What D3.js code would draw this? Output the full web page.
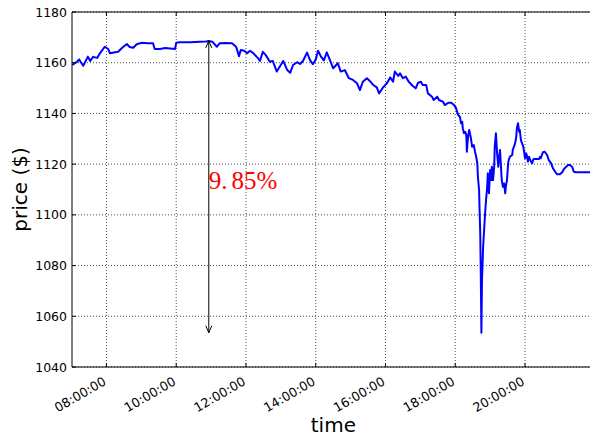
<!DOCTYPE html>
<html>
<head>
<meta charset="utf-8">
<script src="https://cdn.jsdelivr.net/npm/d3@7"></script>
<style>
  body { margin: 0; background: #fff; }
  svg { display: block; }
</style>
</head>
<body>
<svg id="chart" width="590" height="436"></svg>
<script>
// Intraday price samples (local time, price in $)
const times = [
  "07:01","07:09","07:13","07:20","07:28","07:32","07:37","07:44","07:49","07:57",
  "08:03","08:06","08:15","08:20","08:27","08:35","08:40","08:46","08:52","09:01",
  "09:11","09:20","09:23","09:32","09:41","09:58","10:00","10:06","10:24","10:41",
  "10:51","10:56","11:02","11:10","11:15","11:24","11:36","11:43","11:48","11:51",
  "11:57","12:02","12:07","12:12","12:21","12:24","12:29","12:34","12:41","12:46",
  "12:53","12:58","13:04","13:11","13:16","13:21","13:28","13:33","13:38","13:45",
  "13:50","13:55","14:00","14:04","14:09","14:14","14:19","14:25","14:30","14:38",
  "14:43","14:50","14:57","15:04","15:11","15:16","15:21","15:28","15:33","15:39",
  "15:45","15:49","15:56","16:03","16:08","16:13","16:16","16:22","16:25","16:30",
  "16:35","16:40","16:47","16:52","16:56","17:01","17:04","17:10","17:13","17:20",
  "17:23","17:29","17:32","17:39","17:42","17:48","17:53","17:58","18:01","18:05",
  "18:08","18:10","18:12","18:13","18:15","18:17","18:19","18:20","18:22","18:24",
  "18:27","18:29","18:32","18:34","18:36","18:38","18:39","18:41","18:42","18:43",
  "18:44","18:45","18:46","18:48","18:50","18:51","18:53","18:55","18:56","18:58",
  "19:00","19:02","19:03","19:05","19:07","19:08","19:10","19:12","19:14","19:15",
  "19:17","19:19","19:20","19:22","19:24","19:26","19:27","19:29","19:31","19:32",
  "19:34","19:38","19:39","19:41","19:43","19:45","19:46","19:48","19:50","19:51",
  "19:53","19:55","19:57","19:58","20:00","20:02","20:03","20:05","20:07","20:09",
  "20:12","20:14","20:15","20:24","20:26","20:27","20:29","20:31","20:34","20:38",
  "20:41","20:45","20:48","20:52","20:55","21:00","21:04","21:07","21:11","21:14",
  "21:17","21:21","21:24","21:28","21:59"
];
const prices = [
  1159.1,1160.3,1161.3,1158.8,1162.4,1160.7,1162.3,1161.9,1163.8,1166.3,
  1165.4,1163.7,1164.1,1164.3,1165.9,1167.4,1166.2,1165.9,1167.3,1167.9,
  1167.7,1167.7,1165.4,1165.4,1165.8,1165.4,1167.9,1168.1,1168.1,1168.3,
  1168.4,1168.6,1168.3,1166.3,1167.7,1167.8,1167.7,1166.3,1162.6,1165.0,
  1164.7,1163.7,1164.7,1163.9,1161.7,1160.7,1164.3,1163.0,1160.4,1160.7,
  1156.5,1158.4,1160.7,1157.1,1156.0,1159.1,1160.2,1159.5,1160.7,1164.0,
  1161.1,1159.4,1161.3,1164.7,1162.4,1160.9,1164.1,1160.7,1157.8,1159.8,
  1156.5,1157.1,1153.9,1153.2,1151.9,1149.2,1152.5,1153.9,1152.8,1151.2,
  1150.3,1147.9,1150.3,1152.1,1154.2,1152.5,1156.5,1154.8,1155.8,1153.9,
  1154.5,1152.5,1150.8,1149.9,1152.1,1152.5,1151.2,1151.2,1147.9,1146.6,
  1145.3,1146.6,1145.3,1144.6,1143.3,1144.2,1144.2,1143.3,1142.3,1139.4,
  1138.7,1136.1,1136.7,1134.1,1132.2,1132.8,1131.5,1124.9,1130.8,1133.5,
  1130.2,1126.9,1127.5,1124.9,1122.9,1120.3,1115.0,1109.8,1100.7,1092.8,
  1075.6,1053.5,1074.3,1087.4,1095.3,1099.3,1105.9,1111.1,1116.4,1108.5,
  1117.7,1113.7,1119.0,1113.7,1119.0,1126.9,1132.2,1124.3,1119.0,1121.6,
  1125.6,1117.7,1113.7,1111.1,1112.4,1108.5,1111.1,1113.7,1120.3,1121.6,
  1122.9,1123.6,1125.6,1126.9,1128.2,1130.8,1134.1,1136.1,1132.8,1133.5,
  1129.5,1128.2,1126.9,1125.6,1122.3,1124.3,1123.6,1121.0,1122.9,1121.6,
  1120.3,1121.6,1122.0,1122.0,1122.9,1122.3,1123.6,1124.7,1124.9,1123.6,
  1121.6,1120.3,1118.4,1117.0,1116.0,1116.0,1116.8,1118.1,1119.0,1119.7,
  1119.7,1119.0,1117.0,1116.8,1116.8
];

const xTicks = ["08:00","10:00","12:00","14:00","16:00","18:00","20:00"];
const yTicks = [1040, 1060, 1080, 1100, 1120, 1140, 1160, 1180];
const xDomain = ["07:00", "22:00"];
const yDomain = [1040, 1180];

const parse = d3.timeParse("%H:%M");
const fmt = d3.timeFormat("%H:%M:%S");
const data = times.map((t, i) => ({ t: parse(t), p: prices[i] }));

const W = 590, H = 436;
const plot = { left: 72, top: 12, bottom: 367, right: 594.75 };

const x = d3.scaleTime().domain(xDomain.map(parse)).range([71.6, 594.75]);
const y = d3.scaleLinear().domain(yDomain).range([plot.bottom, plot.top]);

const svg = d3.select("#chart");

svg.append("defs").append("clipPath").attr("id", "plotclip")
  .append("rect")
  .attr("x", plot.left).attr("y", plot.top)
  .attr("width", plot.right - plot.left).attr("height", plot.bottom - plot.top);

// dotted grid
const grid = svg.append("g").attr("stroke", "#000").attr("stroke-width", 0.7)
  .attr("stroke-dasharray", "1,2").attr("fill", "none");
grid.selectAll("line.gx").data(xTicks.map(parse)).join("line")
  .attr("x1", d => x(d)).attr("x2", d => x(d))
  .attr("y1", plot.top).attr("y2", plot.bottom);
grid.selectAll("line.gy").data(yTicks).join("line")
  .attr("x1", plot.left).attr("x2", plot.right)
  .attr("y1", d => y(d)).attr("y2", d => y(d));

// price line
const line = d3.line().x(d => x(d.t)).y(d => y(d.p));
svg.append("path")
  .datum(data)
  .attr("clip-path", "url(#plotclip)")
  .attr("fill", "none")
  .attr("stroke", "#0000ff")
  .attr("stroke-width", 2)
  .attr("stroke-linejoin", "round")
  .attr("d", line);

// spines
const spines = svg.append("g").attr("stroke", "#000").attr("stroke-width", 1).attr("fill", "none");
spines.append("line").attr("x1", plot.left).attr("x2", plot.left).attr("y1", plot.top).attr("y2", plot.bottom);
spines.append("line").attr("x1", plot.left).attr("x2", W).attr("y1", plot.top).attr("y2", plot.top);
spines.append("line").attr("x1", plot.left).attr("x2", W).attr("y1", plot.bottom).attr("y2", plot.bottom);

// inward tick marks
const tl = 4;
xTicks.map(parse).forEach(d => {
  spines.append("line").attr("x1", x(d)).attr("x2", x(d)).attr("y1", plot.bottom).attr("y2", plot.bottom - tl);
  spines.append("line").attr("x1", x(d)).attr("x2", x(d)).attr("y1", plot.top).attr("y2", plot.top + tl);
});
yTicks.forEach(d => {
  spines.append("line").attr("x1", plot.left).attr("x2", plot.left + tl).attr("y1", y(d)).attr("y2", y(d));
});

const font = "'DejaVu Sans', sans-serif";

// y tick labels
svg.append("g").selectAll("text").data(yTicks).join("text")
  .attr("x", plot.left - 5)
  .attr("y", d => y(d))
  .attr("dy", "0.36em")
  .attr("text-anchor", "end")
  .attr("font-family", font).attr("font-size", 12.5).attr("fill", "#000")
  .text(d => d);

// x tick labels, rotated
svg.append("g").selectAll("text").data(xTicks.map(parse)).join("text")
  .attr("transform", d => `translate(${x(d) - 4},${plot.bottom + 9}) rotate(-30)`)
  .attr("dy", "0.72em")
  .attr("text-anchor", "end")
  .attr("font-family", font).attr("font-size", 12.7).attr("fill", "#000")
  .text(d => fmt(d));

// axis titles
svg.append("text")
  .attr("x", (plot.left + plot.right) / 2).attr("y", 432)
  .attr("text-anchor", "middle")
  .attr("font-family", font).attr("font-size", 20).attr("fill", "#000")
  .text("time");
svg.append("text")
  .attr("transform", `translate(27,${(plot.top + plot.bottom) / 2}) rotate(-90)`)
  .attr("text-anchor", "middle")
  .attr("font-family", font).attr("font-size", 20).attr("fill", "#000")
  .text("price ($)");

// peak-to-trough annotation
const iMax = d3.maxIndex(data, d => d.p);
const iMin = d3.minIndex(data, d => d.p);
const hi = data[iMax].p, lo = data[iMin].p;
const ax = x(data[iMax].t);
const yHi = y(hi), yLo = y(lo);
const ann = svg.append("g").attr("stroke", "#000").attr("stroke-width", 1).attr("fill", "none");
ann.append("line").attr("x1", ax).attr("x2", ax).attr("y1", yHi).attr("y2", yLo);
ann.append("path").attr("d", `M${ax - 3},${yHi + 7}L${ax},${yHi}L${ax + 3},${yHi + 7}`);
ann.append("path").attr("d", `M${ax - 3},${yLo - 7}L${ax},${yLo}L${ax + 3},${yLo - 7}`);

const pct = ((hi - lo) / hi * 100).toFixed(2);
const [whole, frac] = pct.split(".");
const lbl = svg.append("text")
  .attr("x", ax).attr("y", (yHi + yLo) / 2 + 2)
  .attr("font-family", "'Liberation Serif', 'DejaVu Serif', serif")
  .attr("font-size", 25).attr("fill", "#ff0000");
lbl.append("tspan").text(whole + ".");
lbl.append("tspan").attr("dx", 4).text(frac + "%");
</script>
</body>
</html>
